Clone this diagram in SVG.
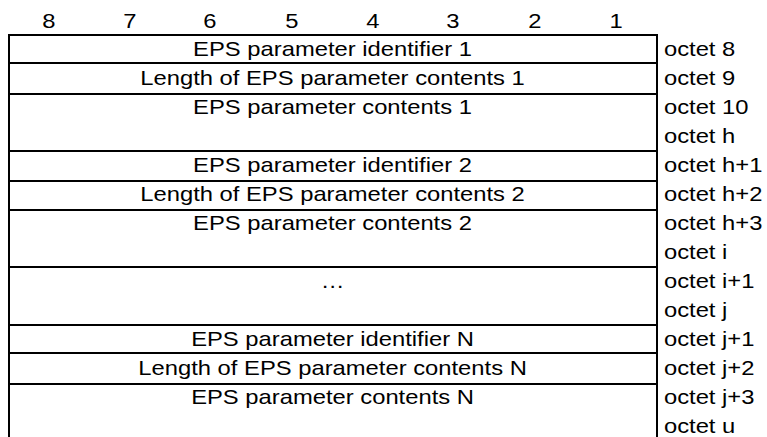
<svg xmlns="http://www.w3.org/2000/svg" width="767" height="437" viewBox="0 0 767 437">
<style>
.ln{stroke:#000;stroke-width:2;fill:none}
.t{font-family:"Liberation Sans",Arial,sans-serif;font-size:21px;fill:#000}
.c{text-anchor:middle}
</style>
<rect width="767" height="437" fill="#fff"/>
<g id="connectors">
<path class="ln" d="M9,35 V437 M657,35 V437"/>
<path class="ln" d="M8,35 H658 M8,63 H658 M8,94 H658 M8,151 H658 M8,181 H658 M8,210 H658 M8,267 H658 M8,325 H658 M8,353 H658 M8,384 H658"/>
</g>
<g transform="scale(1.133 1)">
<g id="header" class="t c">
<text x="43.2" y="28">8</text>
<text x="114.7" y="28">7</text>
<text x="185.3" y="28">6</text>
<text x="257.7" y="28">5</text>
<text x="329.2" y="28">4</text>
<text x="399.8" y="28">3</text>
<text x="472.2" y="28">2</text>
<text x="543.7" y="28">1</text>
</g>
<g id="n1" class="t c"><text x="293.5" y="56">EPS parameter identifier 1</text></g>
<g id="n2" class="t c"><text x="293.5" y="85">Length of EPS parameter contents 1</text></g>
<g id="n3" class="t c"><text x="293.5" y="114">EPS parameter contents 1</text></g>
<g id="n4" class="t c"><text x="293.5" y="172">EPS parameter identifier 2</text></g>
<g id="n5" class="t c"><text x="293.5" y="201">Length of EPS parameter contents 2</text></g>
<g id="n6" class="t c"><text x="293.5" y="230">EPS parameter contents 2</text></g>
<g id="n7" class="t c"><text x="293.5" y="288">…</text></g>
<g id="n8" class="t c"><text x="293.5" y="346">EPS parameter identifier N</text></g>
<g id="n9" class="t c"><text x="293.5" y="375">Length of EPS parameter contents N</text></g>
<g id="n10" class="t c"><text x="293.5" y="404">EPS parameter contents N</text></g>
<g id="octets" class="t">
<text x="586" y="56">octet 8</text>
<text x="586" y="85">octet 9</text>
<text x="586" y="114">octet 10</text>
<text x="586" y="143">octet h</text>
<text x="586" y="172">octet h+1</text>
<text x="586" y="201">octet h+2</text>
<text x="586" y="230">octet h+3</text>
<text x="586" y="259">octet i</text>
<text x="586" y="288">octet i+1</text>
<text x="586" y="317">octet j</text>
<text x="586" y="346">octet j+1</text>
<text x="586" y="375">octet j+2</text>
<text x="586" y="404">octet j+3</text>
<text x="586" y="433">octet u</text>
</g>
</g>
</svg>
